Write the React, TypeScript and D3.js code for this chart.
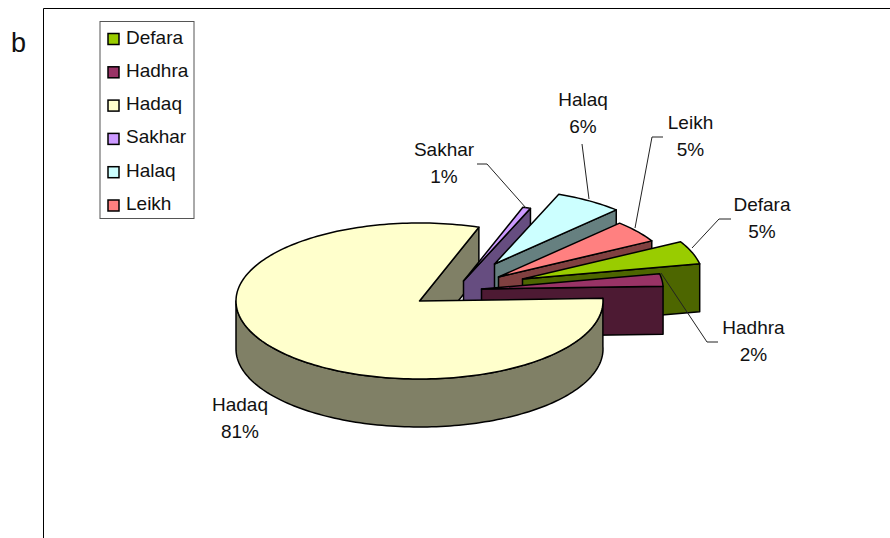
import React from "react";
import * as d3 from "d3";

const categories = ["Defara", "Hadhra", "Hadaq", "Sakhar", "Halaq", "Leikh"];
const shares = [4.9, 2.6, 80.8, 0.7, 6.2, 4.8];
const shownPercent = ["5%", "2%", "81%", "1%", "6%", "5%"];

const topColors = ["#99CC00", "#993366", "#FFFFCC", "#CC99FF", "#CCFFFF", "#FF8080"];
const sideColors = ["#4D6600", "#4D1A33", "#808066", "#664D80", "#668080", "#804040"];
// explosion of each slice, as pixel shift of its apex from the pie centre
const shiftX = [103, 62, 0, 44, 75, 79];
const shiftY = [-22, -12, 0, -20, -37, -24];
const radiusScale = [0.985, 0.99, 1, 1, 0.96, 0.955];
const labelX = [762, 753.5, 240, 444, 583, 690.5];
const labelY = [211, 334, 411, 156, 106, 129];
const leaders: [number, number][][] = [
  [[731, 219], [719, 219], [692, 248]],
  [[718, 342], [707, 342], [661, 273]],
  [],
  [[477, 164], [487, 164], [526, 208]],
  [[582, 144], [589, 199]],
  [[663, 137], [652, 137], [635, 228]],
];
const drawOrder = [3, 4, 5, 0, 1];

const cx = 419.5, cy = 301, rx = 183.5, ry = 78, depth = 48;
const font = "Liberation Sans, Arial, sans-serif";

const arcs = d3
  .pie<number>()
  .sort(null)
  .value((d) => d)
  .startAngle((61 * Math.PI) / 180)
  .endAngle((421 * Math.PI) / 180)(shares);

const line = d3.line<[number, number]>();
const pt = (a: number, r: number, ox: number, oy: number): [number, number] => [
  cx + ox + Math.sin(a) * rx * r,
  cy + oy - Math.cos(a) * ry * r,
];
function arcPts(a0: number, a1: number, r: number, ox: number, oy: number) {
  const n = Math.max(4, Math.ceil(Math.abs(a1 - a0) * 40));
  return d3.range(n + 1).map((i) => pt(a0 + ((a1 - a0) * i) / n, r, ox, oy));
}
const P = (pts: [number, number][]) => line(pts)! + "Z";
const edge = { stroke: "#000", strokeWidth: 1.5, strokeLinejoin: "round" as const };

function Slice({ i }: { i: number }) {
  const { startAngle: a0, endAngle: a1 } = arcs[i];
  const ox = shiftX[i], oy = shiftY[i], r = radiusScale[i];
  const apex: [number, number] = [cx + ox, cy + oy];
  const top = [apex, ...arcPts(a0, a1, r, ox, oy)];
  const pEnd = pt(a1, r, ox, oy);
  const face = [apex, pEnd, [pEnd[0], pEnd[1] + depth], [apex[0], apex[1] + depth]] as [number, number][];
  return (
    <g>
      <path d={P(face)} fill={sideColors[i]} {...edge} />
      <path d={P(top)} fill={topColors[i]} {...edge} />
    </g>
  );
}

export default function App() {
  const h = 2;
  const { startAngle: a0, endAngle: a1 } = arcs[h];
  const apex: [number, number] = [cx, cy];
  const pEnd = pt(a1, 1, 0, 0);
  const back = [apex, pEnd, [pEnd[0], pEnd[1] + depth], [cx, cy + depth]] as [number, number][];
  const front = arcPts(a0, (3 * Math.PI) / 2, 1, 0, 0);
  const rim = [...front, ...front.slice().reverse().map(([x, y]) => [x, y + depth] as [number, number])];
  const top = [apex, ...arcPts(a0, a1, 1, 0, 0)];
  return (
    <svg
      width={890}
      height={538}
      style={{ position: "absolute", left: 0, top: 0, background: "#fff" }}
      fontFamily={font}
      fill="#111"
    >
      <path d="M43.5,538V8.5H890" fill="none" stroke="#000" strokeWidth={1} />
      <text x={11} y={52} fontSize={27}>b</text>

      <path d={P(back)} fill={sideColors[h]} {...edge} />
      {drawOrder.map((i) => <Slice key={i} i={i} />)}
      <path d={P(rim)} fill={sideColors[h]} {...edge} />
      <path d={P(top)} fill={topColors[h]} {...edge} />

      {leaders.map((l, i) =>
        l.length ? <path key={i} d={line(l)!} fill="none" stroke="#222" strokeWidth={1} /> : null
      )}
      {categories.map((c, i) => (
        <text key={c} x={labelX[i]} y={labelY[i]} fontSize={19} textAnchor="middle">
          <tspan x={labelX[i]}>{c}</tspan>
          <tspan x={labelX[i]} dy={26.7}>{shownPercent[i]}</tspan>
        </text>
      ))}

      <rect x={100} y={21.5} width={94} height={197} fill="#fff" stroke="#555" strokeWidth={1} />
      {categories.map((c, i) => {
        const y = 37.5 + i * 33.3;
        return (
          <g key={c}>
            <rect x={108} y={y - 4} width={11} height={11} fill={topColors[i]} stroke="#000" strokeWidth={1.5} />
            <text x={126} y={y + 6} fontSize={19}>{c}</text>
          </g>
        );
      })}
    </svg>
  );
}
